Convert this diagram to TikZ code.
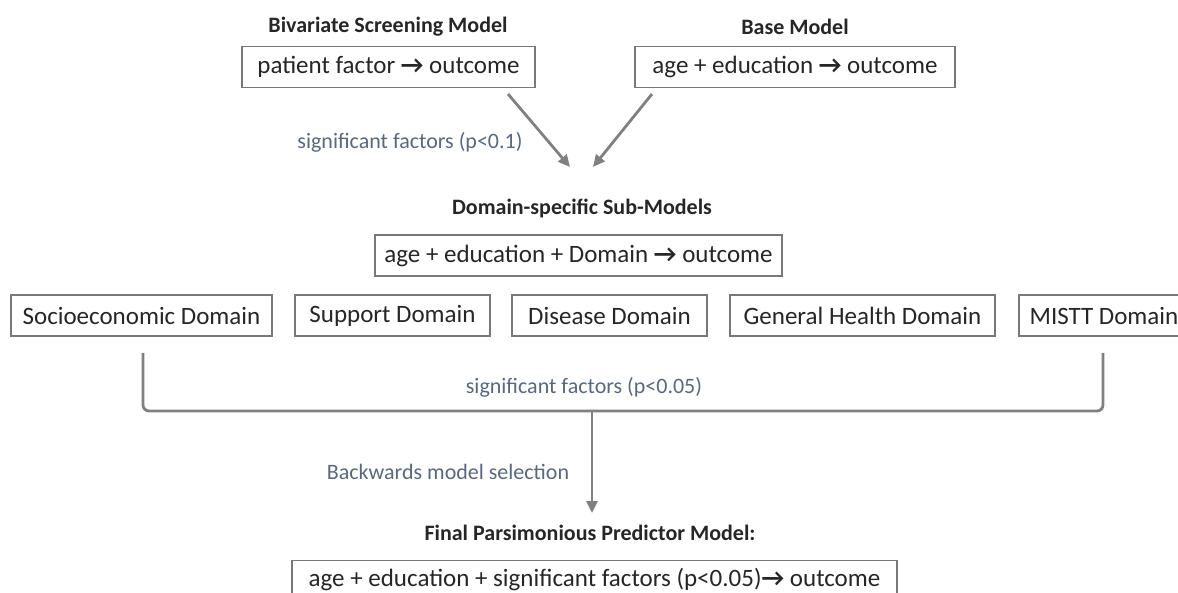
\documentclass[tikz,border=0pt]{standalone}
\usepackage{fontspec}
\setmainfont{Carlito}
\newcommand{\myarrow}{\textbf{→}}
\usetikzlibrary{arrows.meta}
\definecolor{linegray}{RGB}{128,128,128}
\definecolor{boxgray}{RGB}{120,120,120}
\definecolor{labelblue}{RGB}{88,104,128}
\tikzset{
  every node/.style={inner sep=0pt, outer sep=0pt},
  boxnode/.style={draw=boxgray, line width=1.4pt, minimum height=41pt, font=\fontsize{25}{29}\selectfont, text=black!85},
  titlenode/.style={font=\fontsize{22}{26}\selectfont\bfseries, text=black!85},
  labelnode/.style={font=\fontsize{22}{26}\selectfont, text=labelblue},
  conn/.style={draw=linegray, line width=2.8pt, -{Triangle[length=12pt,width=11pt]}},
  bracket/.style={draw=linegray, line width=2.8pt, rounded corners=6pt}
}
\begin{document}
\begin{tikzpicture}[x=1pt,y=-1pt]
\useasboundingbox (0,0) rectangle (1178,593);
\clip (0,0) rectangle (1178,593);
% titles
\node[titlenode] (t1) at (388,27) {Bivariate Screening Model};
\node[titlenode] (t2) at (795,27) {Base Model};
\node[titlenode] (t3) at (582,208) {Domain-specific Sub-Models};
\node[titlenode] (t4) at (590,533) {Final Parsimonious Predictor Model:};
% boxes
\node[boxnode, minimum width=293pt] (b1) at (388.5,67) {patient factor \myarrow{} outcome};
\node[boxnode, minimum width=320pt] (b2) at (795,67) {age + education \myarrow{} outcome};
\node[boxnode, minimum width=407pt] (b3) at (578.5,255.5) {age + education + Domain \myarrow{} outcome};
\node[boxnode, minimum width=261pt] (d1) at (141.5,315.5) {Socioeconomic Domain};
\node[boxnode, minimum width=195pt] (d2) at (392.5,315.5) {Support Domain};
\node[boxnode, minimum width=195pt] (d3) at (609.5,315.5) {Disease Domain};
\node[boxnode, minimum width=265pt] (d4) at (862.5,315.5) {General Health Domain};
\node[boxnode, minimum width=170pt] (d5) at (1104,315.5) {MISTT Domain};
\node[boxnode, minimum width=605pt, minimum height=38pt] (fb) at (594.5,579.5) {age + education + significant factors (p<0.05)\myarrow{} outcome};
% labels
\node[labelnode] (l1) at (410,142) {significant factors (p<0.1)};
\node[labelnode] (l2) at (584,387) {significant factors (p<0.05)};
\node[labelnode] (l3) at (448,472) {Backwards model selection};
% connector coordinates
\coordinate (a1s) at (508,94);
\coordinate (a1e) at (570,167);
\coordinate (a2s) at (652,94);
\coordinate (a2e) at (593,167);
\coordinate (bl) at (143,353);
\coordinate (br) at (1103,353);
\coordinate (bm) at (592,411);
\coordinate (fe) at (592,513);
% connectors
\draw[conn] (a1s) -- (a1e);
\draw[conn] (a2s) -- (a2e);
\draw[bracket] (bl) |- (bm) -| (br);
\draw[conn] (bm) -- (fe);
\end{tikzpicture}
\end{document}
